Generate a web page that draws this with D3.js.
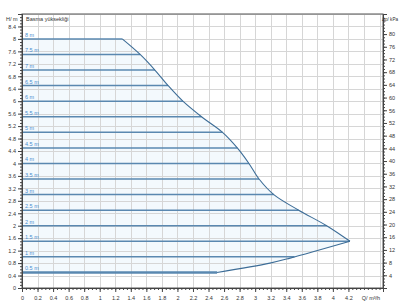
<!DOCTYPE html>
<html>
<head>
<meta charset="utf-8">
<script src="https://cdn.jsdelivr.net/npm/d3@7"></script>
<style>
  body { margin: 0; background: #fff; }
  svg text { font-family: "Liberation Sans", Arial, sans-serif; }
</style>
</head>
<body>
<svg id="chart" width="400" height="306"></svg>
<script>
// head levels drawn as lines (m)
const headLevels = [0.5, 1, 1.5, 2, 2.5, 3, 3.5, 4, 4.5, 5, 5.5, 6, 6.5, 7, 7.5, 8];
// upper boundary of the operating range (Q m³/h, H m)
const upperQ = [1.29, 1.52, 1.71, 1.88, 2.07, 2.31, 2.58, 2.77, 2.92, 3.05, 3.24, 3.56, 3.92, 4.22];
const upperH = [8, 7.5, 7, 6.5, 6, 5.5, 5, 4.5, 4, 3.5, 3, 2.5, 2, 1.5];
// lower boundary, back from the tip
const lowerQ = [4.22, 3.45, 3.19, 2.51];
const lowerH = [1.5, 0.96, 0.8, 0.5];
// axis ticks
const xTicks = d3.range(0, 4.21, 0.2);
const yTicks = d3.range(0, 8.41, 0.4);
const pTicks = d3.range(4, 80.1, 4);

const svg = d3.select('#chart');
const margin = { left: 22, right: 17, top: 14, bottom: 18 };
const width = 400, height = 306;

const x = d3.scaleLinear().domain([0, 4.645]).range([margin.left, width - margin.right]);
const y = d3.scaleLinear().domain([0, 8.8]).range([height - margin.bottom, margin.top]);
const yP = d3.scaleLinear().domain([0, 8.8 * 9.81]).range(y.range());

const fmt = v => d3.format('.1f')(v).replace(/\.0$/, '');

const upperPts = upperQ.map((q, i) => [q, upperH[i]]);
const lowerPts = lowerQ.map((q, i) => [q, lowerH[i]]);
const smooth = d3.line().x(d => x(d[0])).y(d => y(d[1])).curve(d3.curveCatmullRom.alpha(0.5));
const upperPath = smooth(upperPts);
const lowerPath = smooth(lowerPts);

// faint background fill of the range
svg.append('path')
  .attr('d', `M${x(0)},${y(8)}L${upperPath.slice(1)}L${lowerPath.slice(1)}L${x(0)},${y(0.5)}Z`)
  .attr('fill', '#f3f9fd');

// grid
const grid = svg.append('g').attr('stroke', '#d6d6d6').attr('stroke-width', 1);
d3.range(0.2, 4.61, 0.2).forEach(v => {
  grid.append('line').attr('x1', Math.round(x(v)) + 0.5).attr('x2', Math.round(x(v)) + 0.5)
    .attr('y1', y(8.8)).attr('y2', y(0));
});
yTicks.concat([8.8]).forEach(v => {
  grid.append('line').attr('x1', x(0)).attr('x2', x.range()[1])
    .attr('y1', Math.round(y(v)) + 0.5).attr('y2', Math.round(y(v)) + 0.5);
});

// find Q on a branch for a given head
function qAt(h, qs, hs) {
  for (let i = 0; i < hs.length - 1; i++) {
    const a = hs[i], b = hs[i + 1];
    if ((h - a) * (h - b) <= 0 && a !== b) {
      return qs[i] + (h - a) / (b - a) * (qs[i + 1] - qs[i]);
    }
  }
  return qs[qs.length - 1];
}

// head level lines
const levels = svg.append('g');
headLevels.forEach(h => {
  const qEnd = h >= 1.5 ? qAt(h, upperQ, upperH) : qAt(h, lowerQ, lowerH);
  levels.append('line')
    .attr('x1', x(0)).attr('x2', x(qEnd))
    .attr('y1', y(h)).attr('y2', y(h))
    .attr('stroke', '#5a88b0')
    .attr('stroke-width', h === 0.5 ? 2.4 : 1.5);
  levels.append('text')
    .attr('x', x(0) + 3).attr('y', y(h) - 2)
    .attr('font-size', 5.5).attr('fill', '#4b8fd0')
    .text(fmt(h) + ' m');
});

// boundary curve
const curve = svg.append('g').attr('fill', 'none').attr('stroke', '#3d6d97').attr('stroke-width', 1.1);
curve.append('path').attr('d', upperPath);
curve.append('path').attr('d', lowerPath);

// frame
svg.append('rect')
  .attr('x', x(0)).attr('y', y(8.8))
  .attr('width', x.range()[1] - x(0)).attr('height', y(0) - y(8.8))
  .attr('fill', 'none').attr('stroke', '#555').attr('stroke-width', 1);

// bottom axis
const gx = svg.append('g').attr('transform', `translate(0,${y(0)})`)
  .call(d3.axisBottom(x).tickValues(xTicks).tickSize(4).tickFormat(fmt));
svg.append('g').attr('transform', `translate(0,${y(0)})`)
  .call(d3.axisBottom(x).tickValues(d3.range(0, 4.61, 0.05)).tickSize(2).tickFormat(''));

// left axis
const gy = svg.append('g').attr('transform', `translate(${x(0)},0)`)
  .call(d3.axisLeft(y).tickValues(yTicks).tickSize(4).tickFormat(fmt));
svg.append('g').attr('transform', `translate(${x(0)},0)`)
  .call(d3.axisLeft(y).tickValues(d3.range(0, 8.75, 0.1)).tickSize(2).tickFormat(''));

// right axis (kPa)
const gp = svg.append('g').attr('transform', `translate(${x.range()[1]},0)`)
  .call(d3.axisRight(yP).tickValues(pTicks).tickSize(4));
svg.append('g').attr('transform', `translate(${x.range()[1]},0)`)
  .call(d3.axisRight(yP).tickValues(d3.range(0, 86, 1)).tickSize(2).tickFormat(''));

svg.selectAll('.domain').attr('stroke', '#444');
svg.selectAll('.tick line').attr('stroke', '#444');
svg.selectAll('.tick text').attr('font-size', 5.5).attr('fill', '#333')
  .attr('font-family', '"Liberation Sans", Arial, sans-serif');
gx.selectAll('.tick text').attr('dy', '0.9em');
gy.selectAll('.tick text').attr('x', -6);
gp.selectAll('.tick text').attr('x', 6);

// axis titles
svg.append('text').attr('x', 6).attr('y', 21).attr('font-size', 5.5).attr('fill', '#333').text('H/ m');
svg.append('text').attr('x', x(0) + 4).attr('y', 21).attr('font-size', 5.5).attr('fill', '#333').text('Basma yüksekliği');
svg.append('text').attr('x', 398).attr('y', 21).attr('text-anchor', 'end')
  .attr('font-size', 4.6).attr('fill', '#333').text('Δp/ kPa');
svg.append('text').attr('x', 371).attr('y', y(0) + 12).attr('text-anchor', 'middle')
  .attr('font-size', 5.5).attr('fill', '#333').text('Q/ m³/h');
</script>
</body>
</html>
